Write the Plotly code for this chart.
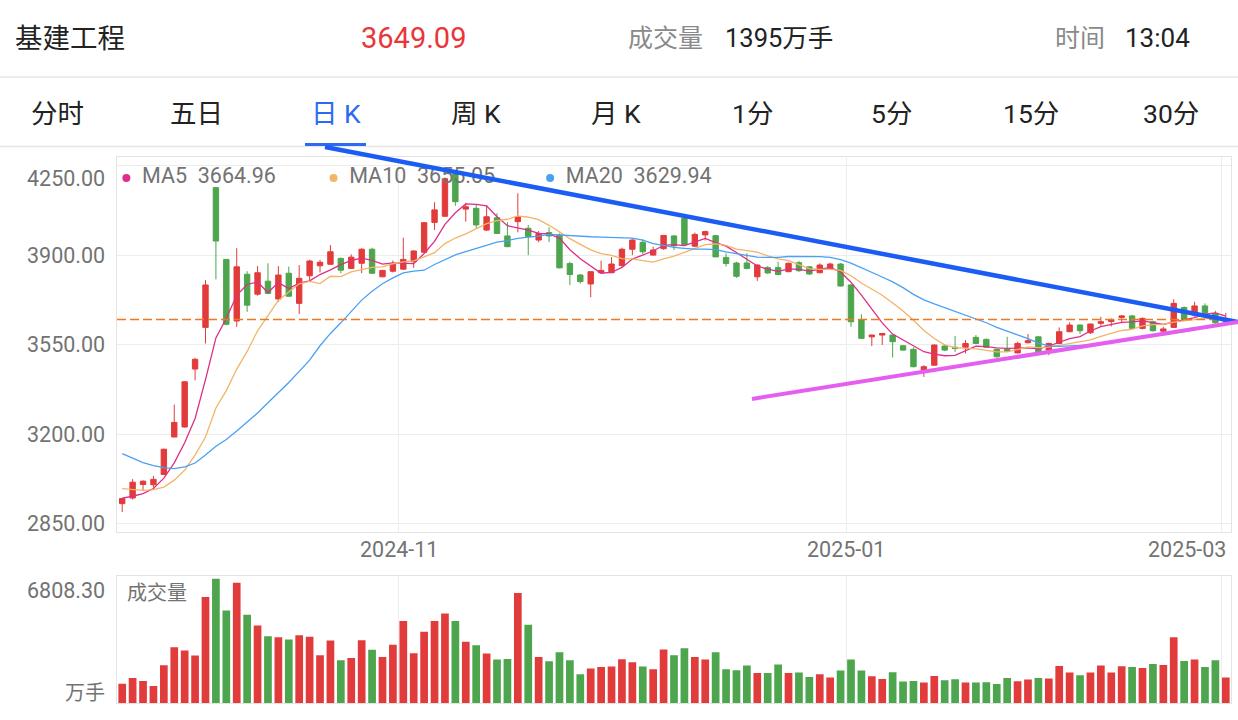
import plotly.graph_objects as go
import pandas as pd

# ---------------- data ----------------
trading_days = {
    "2024-09": [18, 19, 20, 23, 24, 25, 26, 27, 30],
    "2024-10": [8, 9, 10, 11, 14, 15, 16, 17, 18, 21, 22, 23, 24, 25, 28, 29, 30, 31],
    "2024-11": [1, 4, 5, 6, 7, 8, 11, 12, 13, 14, 15, 18, 19, 20, 21, 22, 25, 26, 27, 28, 29],
    "2024-12": [2, 3, 4, 5, 6, 9, 10, 11, 12, 13, 16, 17, 18, 19, 20, 23, 24, 25, 26, 27, 30, 31],
    "2025-01": [2, 3, 6, 7, 8, 9, 10, 13, 14, 15, 16, 17, 20, 21, 22, 23, 24, 27],
    "2025-02": [5, 6, 7, 10, 11, 12, 13, 14, 17, 18, 19, 20, 21, 24, 25, 26, 27, 28],
    "2025-03": [3],
}
dates = [f"{m}-{d:02d}" for m, ds in trading_days.items() for d in ds]

opens = [2928, 2950, 3003, 3002, 3042, 3189, 3228, 3455, 3618, 4165,
         3884, 3643, 3826, 3748, 3799, 3729, 3830, 3712, 3820, 3859,
         3865, 3888, 3849, 3869, 3924, 3816, 3838, 3846, 3875, 3912,
         4029, 4053, 4218, 4081, 4084, 3999, 4047, 3976, 4032, 4006,
         3960, 3989, 3980, 3868, 3823, 3788, 3832, 3832, 3860, 3924,
         3951, 3901, 3926, 3976, 4045, 3936, 3980, 3977, 3892, 3870,
         3870, 3816, 3852, 3852, 3836, 3871, 3855, 3832, 3849, 3866,
         3784, 3647, 3581, 3588, 3588, 3546, 3532, 3448, 3470, 3545,
         3540, 3540, 3579, 3571, 3532, 3532, 3518, 3558, 3581, 3529,
         3555, 3601, 3627, 3597, 3634, 3641, 3657, 3663, 3614, 3640,
         3603, 3618, 3696, 3666, 3702, 3673, 3640]
highs = [2950, 3024, 3019, 3036, 3143, 3316, 3407, 3499, 3803, 4168,
         3886, 3928, 3838, 3858, 3869, 3858, 3856, 3862, 3883, 3882,
         3940, 3892, 3904, 3928, 3930, 3843, 3880, 3969, 3920, 4030,
         4108, 4205, 4222, 4106, 4100, 4095, 4065, 4030, 4143, 4019,
         3995, 4010, 3986, 3875, 3827, 3838, 3879, 3893, 3930, 3963,
         3963, 3934, 3980, 3980, 4047, 3989, 3996, 3980, 3908, 3875,
         3908, 3865, 3858, 3875, 3872, 3878, 3858, 3869, 3871, 3869,
         3788, 3669, 3590, 3596, 3590, 3548, 3540, 3470, 3551, 3553,
         3584, 3568, 3588, 3575, 3535, 3581, 3562, 3592, 3583, 3558,
         3618, 3638, 3630, 3633, 3659, 3653, 3665, 3667, 3657, 3644,
         3620, 3728, 3700, 3718, 3712, 3683, 3675]
lows = [2895, 2944, 2980, 2991, 3040, 3188, 3226, 3411, 3555, 3806,
        3626, 3620, 3679, 3742, 3749, 3718, 3738, 3670, 3803, 3833,
        3863, 3830, 3847, 3830, 3828, 3814, 3833, 3843, 3851, 3910,
        3999, 4050, 4094, 4032, 4006, 3995, 3984, 3932, 3990, 3901,
        3951, 3952, 3849, 3784, 3790, 3736, 3830, 3830, 3855, 3901,
        3905, 3899, 3922, 3921, 3940, 3932, 3958, 3893, 3856, 3812,
        3845, 3800, 3828, 3822, 3834, 3835, 3823, 3830, 3845, 3778,
        3620, 3573, 3545, 3549, 3500, 3527, 3462, 3424, 3468, 3525,
        3522, 3516, 3553, 3538, 3500, 3522, 3516, 3555, 3520, 3509,
        3553, 3599, 3592, 3592, 3623, 3622, 3634, 3612, 3610, 3601,
        3597, 3616, 3645, 3660, 3670, 3632, 3636]
closes = [2948, 3012, 3016, 3023, 3141, 3246, 3405, 3493, 3784, 3956,
          3630, 3855, 3705, 3832, 3751, 3823, 3740, 3810, 3878, 3873,
          3914, 3842, 3893, 3924, 3830, 3841, 3866, 3884, 3917, 4028,
          4078, 4200, 4110, 4090, 4019, 4051, 3986, 3934, 4051, 3973,
          3986, 3976, 3851, 3825, 3797, 3836, 3841, 3866, 3924, 3960,
          3914, 3921, 3978, 3937, 3942, 3982, 3993, 3894, 3868, 3818,
          3849, 3862, 3831, 3825, 3869, 3840, 3827, 3862, 3866, 3780,
          3640, 3575, 3588, 3594, 3562, 3529, 3464, 3464, 3549, 3529,
          3535, 3555, 3555, 3540, 3503, 3525, 3555, 3566, 3522, 3555,
          3601, 3627, 3605, 3631, 3640, 3649, 3663, 3614, 3653, 3605,
          3612, 3712, 3649, 3702, 3675, 3636, 3649.09]
volumes = [1061, 1373, 1208, 933, 2068, 3056, 2873, 2599, 5802, 6808.3,
           5070, 6589, 4832, 4246, 3660, 3605, 3477, 3715, 3624, 2617,
           3422, 2343, 2471, 3441, 2910, 2526, 3184, 4484, 2727, 3898,
           4484, 4905, 4484, 3349, 3166, 2709, 2379, 2416, 6021, 4283,
           2526, 2288, 2782, 2343, 1574, 1885, 1977, 1995, 2398, 2233,
           1995, 1848, 2928, 2617, 3001, 2526, 2379, 2782, 1848, 1794,
           2050, 1647, 1647, 2105, 1647, 1665, 1428, 1574, 1391, 1775,
           2379, 1775, 1464, 1318, 1684, 1171, 1208, 1116, 1482, 1244,
           1299, 1116, 1116, 1135, 1043, 1373, 1190, 1281, 1373, 1336,
           2031, 1665, 1519, 1665, 2050, 1665, 2013, 1977, 1922, 2141,
           2086, 3605, 2306, 2379, 1977, 2343, 1395]

# moving-average values at the start of the window (earlier history not shown)
ma5_head = [2950, 2957, 2967, 2987]
ma10_head = [2987, 2983, 2980, 2983, 2993, 3020, 3059, 3118, 3189]
ma20_head = [3124, 3105, 3089, 3077, 3069, 3065, 3072, 3087, 3118, 3153,
             3179, 3212, 3248, 3283, 3323, 3362, 3402, 3446, 3490]

ma_labels = ["MA5", "MA10", "MA20"]
ma_values_text = ["3664.96", "3655.05", "3629.94"]
price_ticks = [2850, 3200, 3550, 3900, 4250]
month_ticks = ["2024-11-01", "2025-01-02", "2025-03-03"]
month_labels = ["2024-11", "2025-01", "2025-03"]
vol_max_label = "6808.30"

header_name = "基建工程"
header_price = "3649.09"
header_vol = "1395万手"
header_time = "13:04"
tabs = ["分时", "五日", "日 K", "周 K", "月 K", "1分", "5分", "15分", "30分"]

# ---------------- styling ----------------
W, H = 1238, 720
RED = "#E23B3B"
GREEN = "#4DA54D"
MA_COLORS = ["#DE2E86", "#F2B468", "#4AA0F4"]
FONT = "Roboto, 'Noto Sans CJK SC', sans-serif"
GRID = "#EDEDED"
FRAME = "#E4E4E4"
LABEL = "#737373"

idx = list(range(len(dates)))
s = pd.Series(closes, dtype=float)


def moving_average(n, head):
    vals = s.rolling(n).mean().tolist()
    for k, v in enumerate(head):
        vals[k] = v
    return vals


mas = [moving_average(5, ma5_head), moving_average(10, ma10_head),
       moving_average(20, ma20_head)]

XR = [-0.5, len(dates) - 0.5]
YR = [2817, 4285]
XD = [117 / W, 1231 / W]
YD = [1 - 532 / H, 1 - 157 / H]
VD = [1 - 703 / H, 1 - 575.7 / H]


def px(x):
    return x / W


def py(y):
    return 1 - y / H


def to_paper(i, price):
    return (XD[0] + (i - XR[0]) / (XR[1] - XR[0]) * (XD[1] - XD[0]),
            YD[0] + (price - YR[0]) / (YR[1] - YR[0]) * (YD[1] - YD[0]))


pos = {d: k for k, d in enumerate(dates)}
grid_x = [pos[d] - 0.45 for d in month_ticks]

fig = go.Figure()

# legend text (drawn beneath the candles)
legend_x = [1.9, 21.8, 42.6]
legend_y = [4203] * 3
fig.add_trace(go.Scatter(
    x=legend_x, y=legend_y, mode="text",
    text=[f"{l}\u00a0\u00a0{v}" for l, v in zip(ma_labels, ma_values_text)],
    textposition="middle right",
    textfont=dict(family=FONT, size=21.5, color=LABEL),
    hoverinfo="skip", showlegend=False, xaxis="x", yaxis="y"))
fig.add_trace(go.Scatter(
    x=[v - 1.5 for v in legend_x], y=legend_y, mode="markers",
    marker=dict(size=8, color=MA_COLORS),
    hoverinfo="skip", showlegend=False, xaxis="x", yaxis="y"))

fig.add_trace(go.Candlestick(
    x=idx, open=opens, high=highs, low=lows, close=closes,
    increasing=dict(line=dict(color=RED, width=1), fillcolor=RED),
    decreasing=dict(line=dict(color=GREEN, width=1), fillcolor=GREEN),
    whiskerwidth=0, showlegend=False, xaxis="x", yaxis="y"))

for ma, c in zip(mas, MA_COLORS):
    fig.add_trace(go.Scatter(x=idx, y=ma, mode="lines",
                             line=dict(color=c, width=1.3),
                             hoverinfo="skip", showlegend=False,
                             xaxis="x", yaxis="y"))

vol_colors = [RED if c >= o else GREEN for o, c in zip(opens, closes)]
fig.add_trace(go.Bar(x=idx, y=volumes, marker=dict(color=vol_colors, line=dict(width=0)),
                     showlegend=False, xaxis="x2", yaxis="y2"))

axis_common = dict(showline=True, mirror=True, linecolor=FRAME, linewidth=1,
                   zeroline=False, ticks="", showticklabels=False,
                   gridcolor=GRID, gridwidth=1)

fig.update_layout(
    width=W, height=H, margin=dict(l=0, r=0, t=0, b=0),
    paper_bgcolor="white", plot_bgcolor="white",
    font=dict(family=FONT, color="#222"),
    boxgap=0.26, bargap=0.26, showlegend=False,
    xaxis=dict(domain=XD, range=XR, tickmode="array", tickvals=grid_x,
               showgrid=True, rangeslider=dict(visible=False), **axis_common),
    yaxis=dict(domain=YD, range=YR, tickmode="array", tickvals=price_ticks,
               showgrid=True, **axis_common),
    xaxis2=dict(domain=XD, range=XR, tickmode="array", tickvals=grid_x,
                showgrid=True, anchor="y2", **axis_common),
    yaxis2=dict(domain=VD, range=[0, max(volumes) * 1.024], showgrid=False,
                anchor="x2", **axis_common),
)

ann = []
# header
ann.append(dict(text=header_name, x=px(69.5), y=py(38), font=dict(size=27.5, color="#222")))
ann.append(dict(text=header_price, x=px(413.5), y=py(38), font=dict(size=29, color="#E8363A")))
ann.append(dict(text="成交量", x=px(665), y=py(38), font=dict(size=25, color="#8A8A8A")))
ann.append(dict(text=header_vol, x=px(778.5), y=py(38), font=dict(size=25.5, color="#222")))
ann.append(dict(text="时间", x=px(1080), y=py(38), font=dict(size=25, color="#8A8A8A")))
ann.append(dict(text=header_time, x=px(1157), y=py(38), font=dict(size=26, color="#222")))
tab_centers = [57.5, 196, 335.5, 475.5, 615.5, 752, 891.5, 1031, 1171]
for t, cx in zip(tabs, tab_centers):
    ann.append(dict(text=t, x=px(cx), y=py(113),
                    font=dict(size=26.5, color="#2A6BF2" if t == "日 K" else "#222")))
for a in ann:
    a.update(xref="paper", yref="paper", xanchor="center", yanchor="middle", showarrow=False)

# price axis labels
for v in price_ticks:
    ann.append(dict(text=f"{v:.2f}", xref="paper", yref="y", x=px(107), y=v,
                    xanchor="right", yanchor="middle", showarrow=False,
                    yshift=-13 if v == max(price_ticks) else 0,
                    font=dict(size=21.5, color=LABEL)))
# date labels
for d, lab in zip(month_ticks, month_labels):
    last = d == month_ticks[-1]
    ann.append(dict(text=lab, xref="x domain" if last else "x", yref="paper",
                    x=1 if last else pos[d] - 0.45, y=py(549),
                    xanchor="right" if last else "center", yanchor="middle",
                    xshift=-3 if last else 0, showarrow=False,
                    font=dict(size=21.5, color=LABEL)))
# volume labels
ann.append(dict(text=vol_max_label, xref="paper", yref="paper", x=px(107), y=py(590),
                xanchor="right", yanchor="middle", showarrow=False,
                font=dict(size=21.5, color=LABEL)))
ann.append(dict(text="万手", xref="paper", yref="paper", x=px(107), y=py(693),
                xanchor="right", yanchor="middle", showarrow=False,
                font=dict(size=20, color=LABEL)))
ann.append(dict(text="成交量", xref="paper", yref="paper", x=px(125), y=py(593),
                xanchor="left", yanchor="middle", showarrow=False,
                font=dict(size=20, color=LABEL)))
fig.update_layout(annotations=ann)

shapes = []
for yy in (77, 146.5):
    shapes.append(dict(type="line", xref="paper", yref="paper", x0=0, x1=1,
                       y0=py(yy), y1=py(yy), line=dict(color="#E6E6E6", width=1.5)))
shapes.append(dict(type="line", xref="paper", yref="paper", x0=px(305), x1=px(366),
                   y0=py(144.5), y1=py(144.5), line=dict(color="#2A6BF2", width=3)))
# last-price dashed line
shapes.append(dict(type="line", xref="x domain", yref="y", x0=0, x1=1,
                   y0=closes[-1], y1=closes[-1],
                   line=dict(color="#EE7A20", width=1.5, dash="9px,4px")))
# hand-drawn trend lines (anchors given as (bar index, price))
trend_lines = [((19.48, 4324), (107.17, 3639), "#1B5CF4", 4.5),
               ((60.49, 3338), (107.17, 3639), "#E65EF0", 4)]
for (i0, p0), (i1, p1), col, wdt in trend_lines:
    x0, y0 = to_paper(i0, p0)
    x1, y1 = to_paper(i1, p1)
    shapes.append(dict(type="line", xref="paper", yref="paper", x0=x0, y0=y0,
                       x1=x1, y1=y1, line=dict(color=col, width=wdt)))
fig.update_layout(shapes=shapes)

fig.write_html("out.html")
